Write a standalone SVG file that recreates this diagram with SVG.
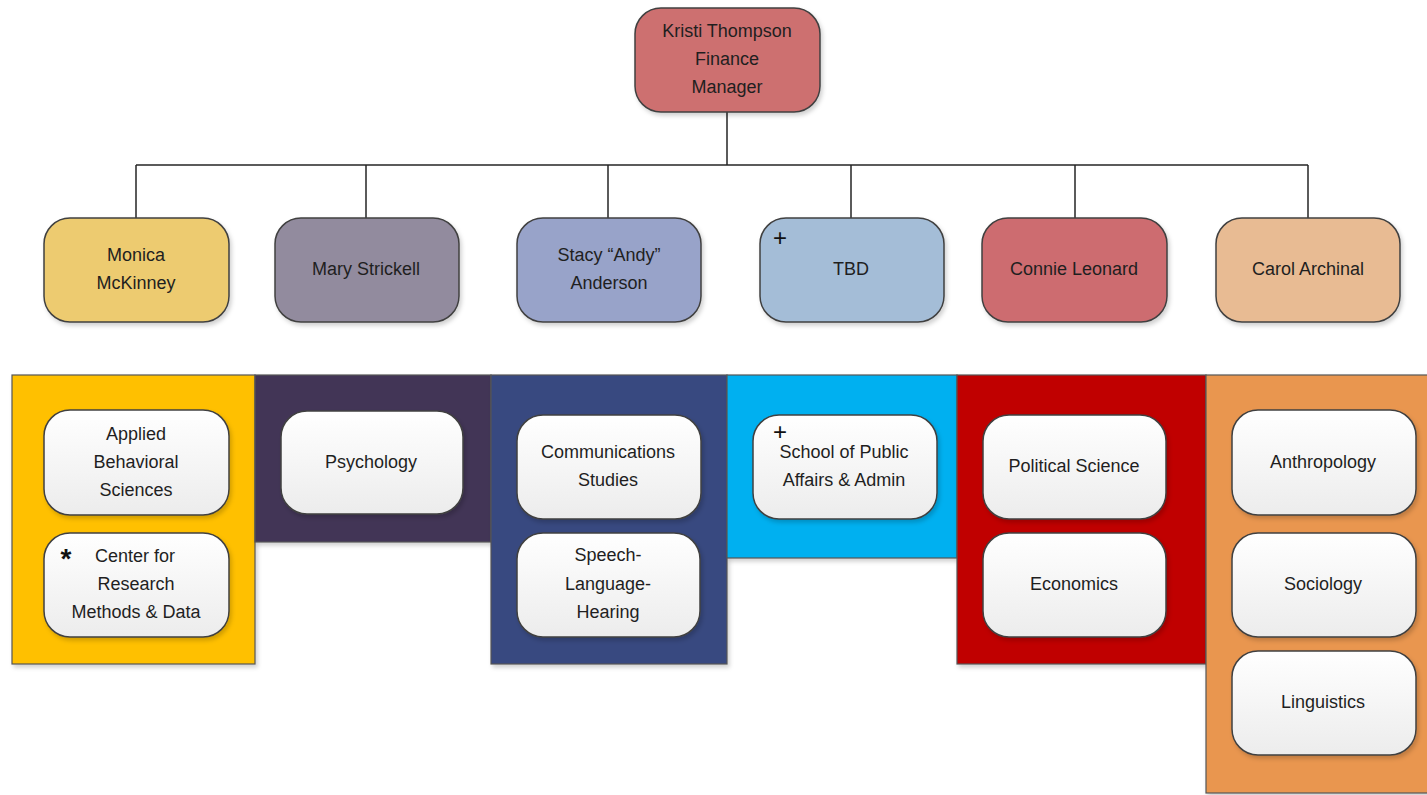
<svg xmlns="http://www.w3.org/2000/svg" width="1427" height="795" viewBox="0 0 1427 795">
<defs>
<linearGradient id="gw" x1="0" y1="0" x2="0" y2="1"><stop offset="0" stop-color="#ffffff"/><stop offset="1" stop-color="#ececec"/></linearGradient>
<filter id="sh" x="-10%" y="-10%" width="130%" height="130%"><feDropShadow dx="2" dy="3" stdDeviation="2" flood-color="#000" flood-opacity="0.18"/></filter>
<style>
.t{font-family:"Liberation Sans",Arial,sans-serif;font-size:18px;fill:#1f1f1f;text-anchor:middle}
.m{font-family:"Liberation Sans",Arial,sans-serif;font-size:24px;fill:#111;text-anchor:middle}
.n{stroke:#404040;stroke-width:1.5;filter:url(#sh)}
.w{fill:url(#gw);stroke:#404040;stroke-width:1.5;filter:url(#sh)}
.p{stroke:#555;stroke-width:1.2;filter:url(#sh)}
.c{stroke:#262626;stroke-width:1.5;fill:none}
</style>
</defs>
<rect width="1427" height="795" fill="#fff"/>
<g id="connectors">
<path class="c" d="M727 112V165M136 165H1308M136 165V218M366 165V218M608 165V218M851 165V218M1075 165V218M1308 165V218"/>
</g>
<g id="panels">
<rect class="p" x="12" y="375" width="243" height="289" fill="#FFC000"/>
<rect class="p" x="255" y="375" width="236" height="167" fill="#433457"/>
<rect class="p" x="491" y="375" width="236" height="289" fill="#394A80"/>
<rect class="p" x="727" y="375" width="230" height="183" fill="#00B0F0"/>
<rect class="p" x="957" y="375" width="249" height="289" fill="#C00000"/>
<rect class="p" x="1206" y="375" width="225" height="418" fill="#E9964F"/>
</g>
<g id="kristi"><rect class="n" x="635" y="8" width="185" height="104" rx="26" fill="#CD6F70"/>
<text class="t" x="727" y="37">Kristi Thompson</text><text class="t" x="727" y="65">Finance</text><text class="t" x="727" y="93">Manager</text></g>
<g id="monica"><rect class="n" x="44" y="218" width="185" height="104" rx="26" fill="#EDCB70"/>
<text class="t" x="136" y="261">Monica</text><text class="t" x="136" y="289">McKinney</text></g>
<g id="mary"><rect class="n" x="275" y="218" width="184" height="104" rx="26" fill="#928B9E"/>
<text class="t" x="366" y="275">Mary Strickell</text></g>
<g id="stacy"><rect class="n" x="517" y="218" width="184" height="104" rx="26" fill="#98A3C9"/>
<text class="t" x="609" y="261">Stacy “Andy”</text><text class="t" x="609" y="289">Anderson</text></g>
<g id="tbd"><rect class="n" x="760" y="218" width="184" height="104" rx="26" fill="#A4BDD7"/>
<text class="m" x="780" y="246">+</text><text class="t" x="851" y="275">TBD</text></g>
<g id="connie"><rect class="n" x="982" y="218" width="185" height="104" rx="26" fill="#CD6C6F"/>
<text class="t" x="1074" y="275">Connie Leonard</text></g>
<g id="carol"><rect class="n" x="1216" y="218" width="184" height="104" rx="26" fill="#E8BB93"/>
<text class="t" x="1308" y="275">Carol Archinal</text></g>
<g id="abs"><rect class="w" x="44" y="410" width="185" height="105" rx="26"/>
<text class="t" x="136" y="440">Applied</text><text class="t" x="136" y="468">Behavioral</text><text class="t" x="136" y="496">Sciences</text></g>
<g id="crmd"><rect class="w" x="44" y="533" width="185" height="104" rx="26"/>
<text class="m" x="66" y="568" style="font-size:28px;font-weight:bold">*</text>
<text class="t" x="135" y="562">Center for</text><text class="t" x="136" y="590">Research</text><text class="t" x="136" y="618">Methods &amp; Data</text></g>
<g id="psych"><rect class="w" x="281" y="411" width="182" height="103" rx="26"/>
<text class="t" x="371" y="468">Psychology</text></g>
<g id="comm"><rect class="w" x="517" y="415" width="184" height="104" rx="26"/>
<text class="t" x="608" y="458">Communications</text><text class="t" x="608" y="486">Studies</text></g>
<g id="slh"><rect class="w" x="517" y="533" width="183" height="104" rx="26"/>
<text class="t" x="608" y="561">Speech-</text><text class="t" x="608" y="590">Language-</text><text class="t" x="608" y="618">Hearing</text></g>
<g id="spaa"><rect class="w" x="753" y="415" width="184" height="104" rx="26"/>
<text class="m" x="780" y="440">+</text>
<text class="t" x="844" y="458">School of Public</text><text class="t" x="844" y="486">Affairs &amp; Admin</text></g>
<g id="polisci"><rect class="w" x="983" y="415" width="183" height="104" rx="26"/>
<text class="t" x="1074" y="472">Political Science</text></g>
<g id="econ"><rect class="w" x="983" y="533" width="183" height="104" rx="26"/>
<text class="t" x="1074" y="590">Economics</text></g>
<g id="anth"><rect class="w" x="1232" y="410" width="184" height="105" rx="26"/>
<text class="t" x="1323" y="468">Anthropology</text></g>
<g id="soc"><rect class="w" x="1232" y="533" width="184" height="104" rx="26"/>
<text class="t" x="1323" y="590">Sociology</text></g>
<g id="ling"><rect class="w" x="1232" y="651" width="184" height="104" rx="26"/>
<text class="t" x="1323" y="708">Linguistics</text></g>
</svg>
